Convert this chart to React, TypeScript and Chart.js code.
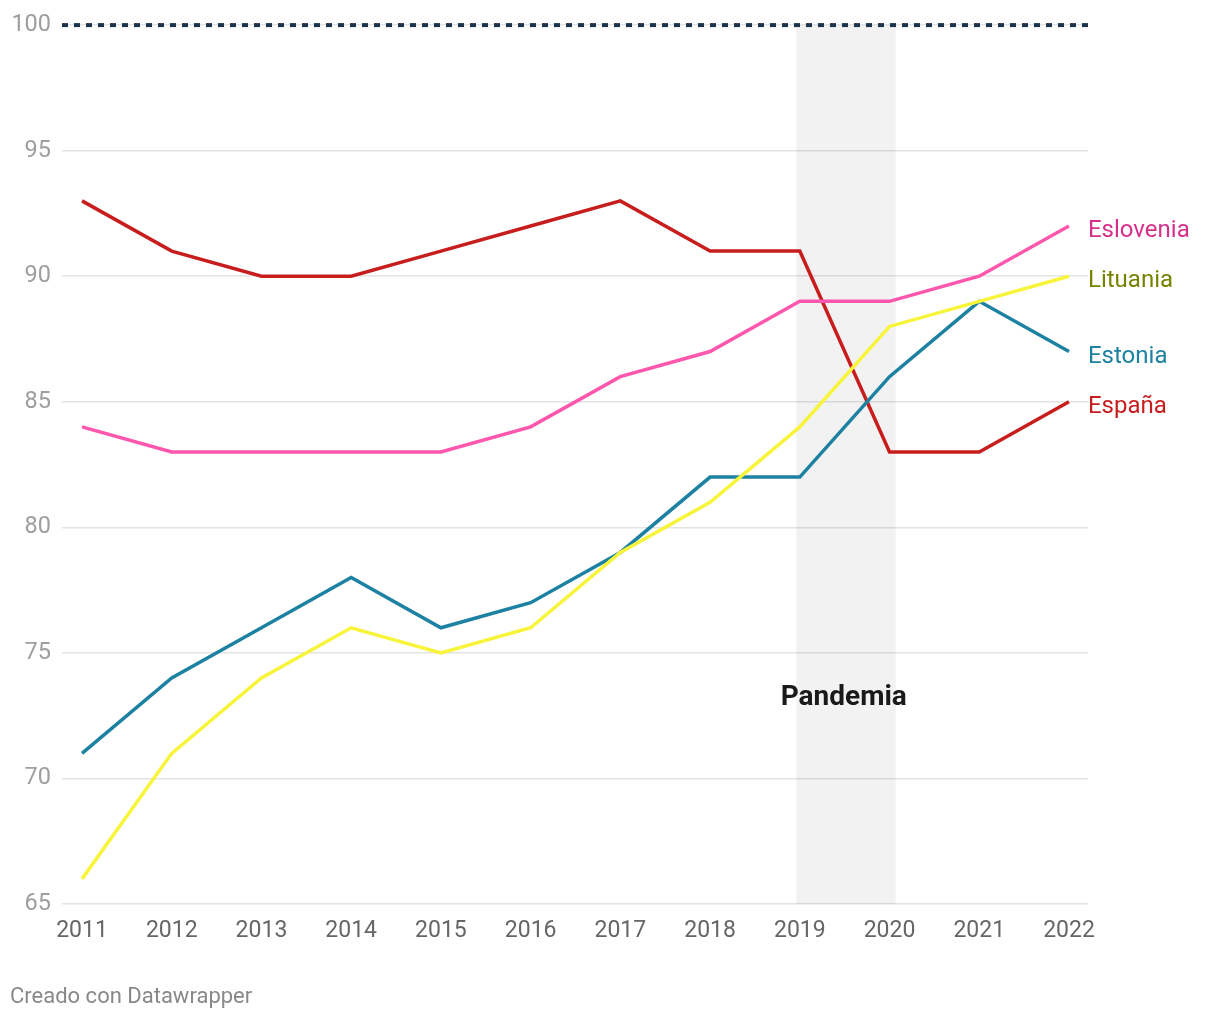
import React, { useEffect, useRef } from "react";
import { Chart, registerables } from "chart.js";

Chart.register(...registerables);

const years = [2011, 2012, 2013, 2014, 2015, 2016, 2017, 2018, 2019, 2020, 2021, 2022];
const espana = [93, 91, 90, 90, 91, 92, 93, 91, 91, 83, 83, 85];
const eslovenia = [84, 83, 83, 83, 83, 84, 86, 87, 89, 89, 90, 92];
const estonia = [71, 74, 76, 78, 76, 77, 79, 82, 82, 86, 89, 87];
const lituania = [66, 71, 74, 76, 75, 76, 79, 81, 84, 88, 89, 90];
const yTicks = [65, 70, 75, 80, 85, 90, 95, 100];
const seriesNames = ["Eslovenia", "Lituania", "Estonia", "España"];
const lineColors = ["#ff57ad", "#f7f43a", "#1d81a2", "#c71e1d"];
const labelColors = ["#d6308a", "#758400", "#1d81a2", "#c71e1d"];
const pandemicRange = [2018.96, 2020.07];
const pandemicLabelPos = { x: 2019.49, y: 73.2 };
const pandemicLabel = "Pandemia";
const targetValue = 100;
const footer = "Creado con Datawrapper";

const FONT = "Roboto, 'Noto Sans', sans-serif";

export default function App() {
  const ref = useRef<HTMLCanvasElement | null>(null);

  useEffect(() => {
    const canvas = ref.current;
    if (!canvas) return;
    const seriesData = [eslovenia, lituania, estonia, espana];

    const overlay = {
      id: "overlay",
      beforeDatasetsDraw(chart: any) {
        const { ctx, chartArea, scales } = chart;
        const x = scales.x;
        const y = scales.y;
        ctx.save();
        ctx.fillStyle = "rgba(0,0,0,0.05)";
        const x0 = x.getPixelForValue(pandemicRange[0]);
        const x1 = x.getPixelForValue(pandemicRange[1]);
        const yTop = y.getPixelForValue(100);
        const yBot = y.getPixelForValue(65);
        ctx.fillRect(x0, yTop, x1 - x0, yBot - yTop);
        const yt = y.getPixelForValue(targetValue);
        ctx.strokeStyle = "#1d3349";
        ctx.lineWidth = 4;
        ctx.setLineDash([6, 6]);
        ctx.beginPath();
        ctx.moveTo(chartArea.left, yt);
        ctx.lineTo(chartArea.right, yt);
        ctx.stroke();
        ctx.setLineDash([]);
        ctx.fillStyle = "#1a1a1a";
        ctx.font = `bold 28px ${FONT}`;
        ctx.textAlign = "center";
        ctx.textBaseline = "middle";
        ctx.fillText(pandemicLabel, x.getPixelForValue(pandemicLabelPos.x), y.getPixelForValue(pandemicLabelPos.y));
        ctx.restore();
      },
      afterDatasetsDraw(chart: any) {
        const { ctx, scales } = chart;
        const x = scales.x;
        const y = scales.y;
        ctx.save();
        ctx.font = `24px ${FONT}`;
        ctx.textAlign = "left";
        ctx.textBaseline = "middle";
        seriesNames.forEach((name, i) => {
          const arr = seriesData[i];
          const v = arr[arr.length - 1];
          ctx.fillStyle = labelColors[i];
          ctx.fillText(name, x.getPixelForValue(years[years.length - 1]) + 19, y.getPixelForValue(v) + 5);
        });
        ctx.fillStyle = "#888888";
        ctx.font = `22px ${FONT}`;
        ctx.fillText(footer, 10, 997);
        ctx.restore();
      },
    };

    const chart = new Chart(canvas, {
      type: "line",
      data: {
        datasets: seriesNames.map((name, i) => ({
          label: name,
          data: years.map((yr, j) => ({ x: yr, y: seriesData[i][j] })),
          borderColor: lineColors[i],
          backgroundColor: lineColors[i],
          borderWidth: 3.5,
          pointRadius: 0,
          tension: 0,
          fill: false,
        })),
      },
      options: {
        animation: false,
        responsive: false,
        maintainAspectRatio: false,
        layout: { padding: { top: 25, right: 132, left: 0, bottom: 0 } },
        plugins: { legend: { display: false }, tooltip: { enabled: false } },
        scales: {
          x: {
            type: "linear",
            min: 2010.777,
            max: 2022.212,
            grid: { display: false, drawTicks: false },
            border: { display: false },
            afterBuildTicks: (scale: any) => {
              scale.ticks = years.map((v) => ({ value: v }));
            },
            afterFit: (scale: any) => {
              scale.height = 116;
            },
            ticks: {
              padding: 13,
              color: "#666666",
              font: { family: FONT, size: 23 },
              maxRotation: 0,
              autoSkip: false,
              callback: (v: any) => String(v),
            },
          },
          y: {
            type: "linear",
            min: 65,
            max: 100,
            grid: { color: "#e3e3e3", lineWidth: 1.5, drawTicks: false },
            border: { display: false },
            afterBuildTicks: (scale: any) => {
              scale.ticks = yTicks.map((v) => ({ value: v }));
            },
            afterFit: (scale: any) => {
              scale.width = 62;
            },
            ticks: {
              padding: 11,
              color: "#9e9e9e",
              font: { family: FONT, size: 23.5 },
              callback: (v: any) => String(v),
            },
          },
        },
      },
      plugins: [overlay],
    });
    return () => chart.destroy();
  }, []);

  return (
    <div style={{ position: "absolute", left: 0, top: 0, width: 1220, height: 1020, background: "#fff" }}>
      <canvas ref={ref} width={1220} height={1020} style={{ width: 1220, height: 1020, display: "block" }} />
    </div>
  );
}
